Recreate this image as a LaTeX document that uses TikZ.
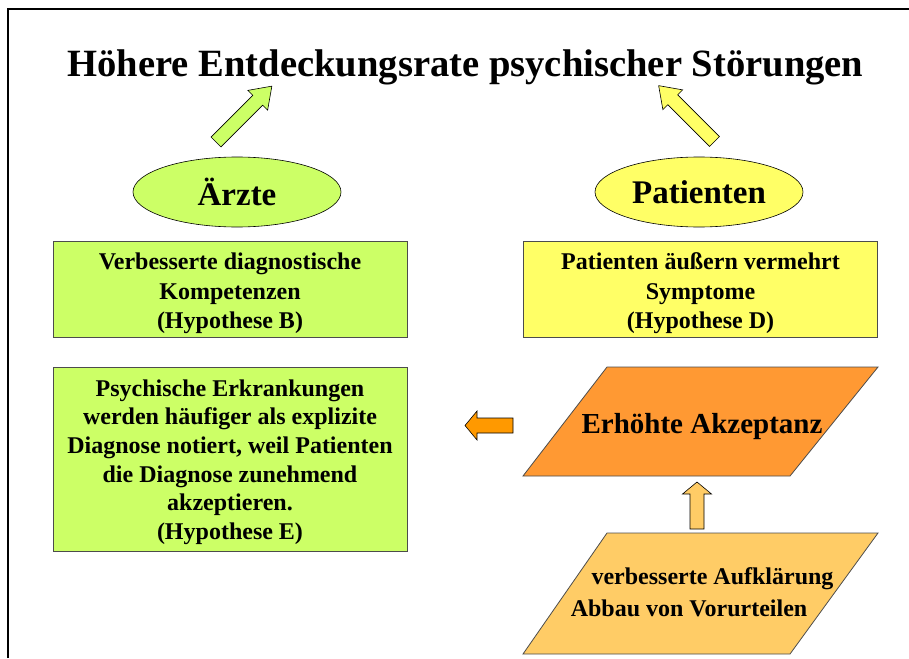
\documentclass[tikz,border=0pt]{standalone}
\usepackage{fontspec}
\setmainfont{Liberation Serif}
\usepackage{tikz}
\usetikzlibrary{shapes.geometric}

\definecolor{lime}{HTML}{CCFF66}
\definecolor{lemon}{HTML}{FFFF66}
\definecolor{deeporange}{HTML}{FF9933}
\definecolor{paleorange}{HTML}{FFCC66}
\definecolor{arroworange}{HTML}{FF9900}

\tikzset{
  box/.style={rectangle, draw=black!70, line width=0.8pt, minimum width=354pt,
    align=center, font=\fontsize{24}{29.5}\selectfont\bfseries},
  oval/.style={ellipse, draw=black, line width=0.6pt, minimum width=208pt,
    minimum height=70pt, font=\fontsize{33}{36}\selectfont\bfseries},
  slanted/.style={draw=black!70, line width=0.8pt},
  pics/fatarrow/.style args={#1/#2/#3/#4}{code={
    \draw[pic actions] (0,-#2) -- (#1-#4,-#2) -- (#1-#4,-#3) -- (#1,0)
      -- (#1-#4,#3) -- (#1-#4,#2) -- (0,#2) -- cycle;
  }}
}

\begin{document}
\begin{tikzpicture}[x=1pt, y=-1pt, line join=miter]
        \useasboundingbox (0,0) rectangle (909,658);
        \draw[line width=2pt] (8,658) -- (8,9) -- (909,9);

        \node[anchor=base, font=\fontsize{38.6}{42}\selectfont\bfseries] (titel) at (465.5,77)
            {Höhere Entdeckungsrate psychischer Störungen};

        % Ärzte
        \node[oval, fill=lime] (aerzte) at (237,192) {Ärzte};
        \node[box, fill=lime, minimum height=95pt] (hypB) at (230,289.5)
            {\rule{0pt}{25pt}Verbesserte diagnostische\\Kompetenzen\\(Hypothese B)};
        \node[box, fill=lime, minimum height=184pt, font=\fontsize{24}{28.7}\selectfont\bfseries] (hypE) at (230,459)
            {\rule{0pt}{23pt}Psychische Erkrankungen\\werden häufiger als explizite\\Diagnose notiert, weil Patienten\\die Diagnose zunehmend\\akzeptieren.\\(Hypothese E)};

        % Patienten
        \node[oval, fill=lemon] (patienten) at (699,192) {Patienten};
        \node[box, fill=lemon, minimum height=95pt] (hypD) at (700.5,289.5)
            {\rule{0pt}{25pt}Patienten äußern vermehrt\\Symptome\\(Hypothese D)};

        \draw[slanted, fill=deeporange] (523,476) -- (607,367) -- (878,367) -- (790,476) -- cycle;
        \node[anchor=base, font=\fontsize{29}{32}\selectfont\bfseries] (akzeptanz) at (702,433)
            {Erhöhte Akzeptanz};
        \draw[slanted, fill=paleorange] (523,654) -- (607,533) -- (878,533) -- (790,654) -- cycle;
        \node[anchor=base, font=\fontsize{24}{28}\selectfont\bfseries] (aufklaerung) at (712.5,584)
            {verbesserte Aufklärung};
        \node[anchor=base, font=\fontsize{24}{28}\selectfont\bfseries] (vorurteile) at (689,616)
            {Abbau von Vorurteilen};

        % Blockpfeile
        \pic[fill=lime, draw=black, line width=0.6pt, rotate=45] at (216,142) {fatarrow=79/7/14/20};
        \pic[fill=lemon, draw=black, line width=0.6pt, rotate=135] at (714.5,141.5) {fatarrow=79/7/14/20};
        \pic[fill=arroworange, draw=black, line width=0.6pt, rotate=180] at (513,425.5) {fatarrow=48/7.5/14.5/12};
        \pic[fill=paleorange, draw=black, line width=0.6pt, rotate=90] at (697,529) {fatarrow=47/7/14.5/12};
    \end{tikzpicture}
\end{document}
